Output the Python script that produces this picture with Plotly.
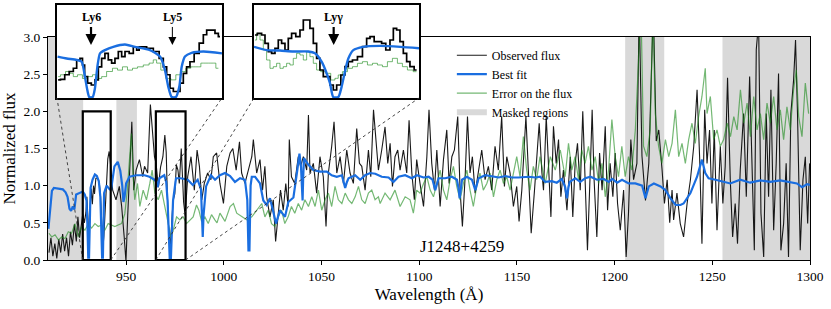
import plotly.graph_objects as go

# ---------------- data ----------------
obs_wave = [
    910.5, 911.5, 912.5, 913.5, 914.5, 915.5, 916.5, 917.5, 918.5, 919.5,
    920.5, 921.5, 922.5, 923.5, 924.5, 925.3, 926.2, 927.0, 927.8, 928.6,
    929.4, 929.9, 930.4, 931.0, 931.5, 932.1, 932.7, 933.3, 933.8, 934.5,
    935.3, 935.9, 936.4, 936.9, 937.5, 938.0, 938.6, 939.2, 939.9, 940.6,
    941.3, 941.9, 943.1, 944.8, 946.5, 947.7, 949.0, 949.9, 950.8, 951.7,
    952.9, 953.9, 955.1, 956.8, 958.5, 959.4, 961.0, 962.4, 963.6, 964.5,
    965.3, 966.5, 967.6, 968.8, 969.8, 970.5, 971.1, 971.7, 972.6, 973.4,
    974.0, 974.9, 975.7, 976.5, 977.2, 978.2, 978.8, 979.4, 980.2, 981.5,
    983.2, 984.9, 986.3, 987.5, 988.7, 990.0, 991.7, 993.4, 994.6, 996.3,
    998.0, 999.8, 1001.5, 1003.2, 1004.6, 1006.3, 1008.0, 1009.1, 1010.8, 1012.6,
    1014.3, 1015.1, 1016.8, 1018.5, 1019.8, 1021.0, 1021.9, 1023.6, 1025.3, 1026.5,
    1027.8, 1029.0, 1030.4, 1031.7, 1032.9, 1033.5, 1034.6, 1036.3, 1038.1, 1039.3,
    1040.7, 1042.4, 1043.3, 1044.1, 1045.8, 1047.5, 1049.2, 1050.9, 1052.3, 1053.5,
    1055.2, 1056.4, 1057.8, 1059.5, 1061.2, 1062.9, 1064.6, 1066.3, 1068.0, 1069.4,
    1070.6, 1072.3, 1074.0, 1075.2, 1076.6, 1078.3, 1079.1, 1080.8, 1082.5, 1083.9,
    1085.1, 1086.3, 1087.6, 1089.0, 1090.2, 1091.9, 1093.6, 1094.8, 1096.2, 1097.5,
    1098.7, 1100.4, 1102.2, 1103.9, 1105.0, 1106.4, 1107.8, 1109.0, 1110.7, 1112.4,
    1114.1, 1115.3, 1116.7, 1118.0, 1119.7, 1120.9, 1122.1, 1123.5, 1124.7, 1126.0,
    1127.2, 1128.6, 1130.3, 1132.0, 1133.7, 1135.4, 1137.1, 1138.8, 1140.5, 1142.2,
    1143.6, 1144.8, 1146.5, 1148.2, 1149.9, 1151.1, 1152.5, 1153.4, 1154.6, 1155.9,
    1157.3, 1159.0, 1160.2, 1161.4, 1162.8, 1163.6, 1165.0, 1166.2, 1167.4, 1168.7,
    1170.1, 1171.3, 1172.5, 1173.8, 1175.6, 1177.3, 1178.6, 1179.8, 1181.0, 1182.4,
    1183.7, 1184.9, 1186.1, 1187.5, 1188.5, 1189.5, 1190.9, 1192.3, 1193.6, 1195.2,
    1196.4, 1197.7, 1199.1, 1200.3, 1201.5, 1202.9, 1204.6, 1205.9, 1207.1, 1208.3,
    1209.7, 1211.4, 1212.6, 1214.0, 1215.8, 1217.5, 1219.8, 1221.3, 1222.6, 1224.3,
    1225.5, 1226.9, 1228.2, 1229.4, 1230.2, 1231.9, 1233.6, 1235.3, 1237.1, 1238.8,
    1240.5, 1242.2, 1243.5, 1244.7, 1246.1, 1247.3, 1248.6, 1249.8, 1251.0, 1252.4,
    1254.1, 1255.4, 1256.6, 1257.8, 1259.2, 1260.4, 1261.7, 1262.9, 1264.3, 1266.0,
    1267.4, 1269.1, 1270.3, 1271.5, 1272.5, 1273.7, 1274.9, 1276.3, 1277.6, 1278.8,
    1280.0, 1281.4, 1282.7, 1283.9, 1285.1, 1286.5, 1287.8, 1289.0, 1290.2, 1291.6,
    1292.6, 1293.6, 1295.0, 1296.4, 1297.6, 1298.8, 1299.8,
]
obs_flux = [
    0.10, 0.30, 0.05, 0.22, 0.02, 0.28, 0.10, 0.35, 0.12, 0.30,
    0.05, 0.38, 0.20, 0.48, 0.25, 0.58, 0.30, 0.45, 0.62, 0.50,
    0.64, 0.85, 0.46, 0.28, 0.67, 0.96, 0.75, 1.00, 0.89, 1.10,
    1.10, 1.07, 1.00, 0.85, 0.50, 0.14, 0.32, 0.67, 0.96, 1.36,
    1.46, 1.32, 0.94, 0.81, 0.99, 0.72, 0.31, -0.02, 0.60, 1.21,
    1.86, 0.94, 1.21, 1.35, 1.12, 1.26, 1.17, 2.09, 1.66, 1.39,
    1.30, 0.98, 1.25, 1.39, 1.68, 1.45, 0.85, 0.46, 0.17, 0.50,
    0.80, 0.89, 1.28, 1.21, 1.03, 1.50, 1.21, 0.78, 0.60, 1.12,
    1.39, 0.94, 1.48, 1.26, 0.81, 1.03, 1.17, 1.08, 1.39, 1.44,
    1.03, 0.76, 1.26, 1.44, 1.50, 1.21, 1.59, 1.17, 1.03, 1.23,
    1.39, 1.62, 1.17, 1.35, 0.94, 1.26, 0.85, 0.58, 0.81, 0.25,
    0.58, 0.94, 0.67, 1.03, 0.72, 1.62, 1.12, 1.03, 1.39, 1.26,
    1.39, 1.21, 1.95, 1.17, 1.30, 0.90, 1.39, 1.12, 0.45, 1.17,
    1.53, 1.86, 1.17, 1.39, 1.03, 1.48, 1.17, 1.03, 1.77, 1.30,
    1.26, 0.94, 1.48, 1.12, 2.02, 1.39, 1.21, 1.48, 1.79, 1.30,
    1.57, 0.99, 1.39, 1.48, 1.21, 1.48, 1.17, 1.88, 1.17, 0.81,
    1.35, 1.03, 0.72, 1.39, 2.02, 1.30, 0.94, 1.48, 0.72, 1.35,
    1.75, 1.03, 1.39, 1.48, 1.93, 0.94, 0.45, 1.12, 1.93, 1.17,
    1.39, 0.90, 1.17, 1.48, 1.08, 1.26, 0.94, 1.53, 1.21, 1.93,
    0.99, 1.39, 1.17, 0.72, 0.99, 0.52, 0.94, 1.39, 1.93, 1.17,
    0.36, 0.94, 1.39, 1.84, 1.17, 0.94, 1.93, 1.21, 0.58, 1.80,
    1.30, 1.62, 0.85, 1.21, 0.67, 1.39, 0.58, 1.30, 1.57, 0.94,
    2.00, 1.08, 0.13, 1.17, 2.02, 1.08, 0.31, 1.44, 0.94, 1.80,
    0.67, 1.30, 0.85, 1.44, 0.76, 0.40, 0.94, 0.04, 0.63, 1.62,
    1.08, 1.30, 3.40, 1.40, 0.80, 1.30, 3.40, 1.60, 1.75, 1.21,
    0.76, 1.08, 0.50, 0.94, 0.54, 0.90, 0.49, 0.31, 0.76, 1.08,
    1.53, 2.29, 1.39, 0.22, 2.02, 1.30, 1.75, 0.76, 1.75, 0.40,
    1.53, 0.76, 1.26, 2.45, 1.08, 0.31, 0.76, 0.22, 1.21, 1.97,
    0.85, 2.47, 1.21, 0.13, 2.83, 3.20, 0.63, 0.04, 1.97, 0.85,
    2.29, 0.40, 1.30, 2.51, 0.13, 0.49, 1.30, 0.04, 1.97, 2.42,
    2.96, 1.97, 0.13, 1.08, 1.39, 0.49, 1.30,
]

err_wave = [
    910.5, 911.9, 913.6, 915.3, 917.0, 918.7, 920.4, 922.1, 923.8, 925.5,
    927.2, 928.9, 930.6, 932.3, 934.0, 935.7, 937.4, 939.1, 940.8, 942.5,
    944.2, 945.9, 947.6, 949.3, 950.6, 951.8, 952.7, 953.5, 954.4, 955.8,
    957.0, 958.7, 960.4, 962.1, 963.3, 964.7, 966.4, 968.1, 969.8, 971.5,
    972.9, 974.1, 975.8, 977.5, 979.2, 980.9, 982.6, 984.3, 986.0, 987.2,
    988.6, 990.3, 992.0, 993.7, 995.4, 996.5, 998.0, 1000.6, 1003.2, 1004.9,
    1006.6, 1009.1, 1011.7, 1014.3, 1016.8, 1019.4, 1021.0, 1022.7, 1024.4, 1026.1,
    1027.8, 1029.5, 1031.2, 1032.9, 1034.6, 1036.3, 1038.1, 1039.8, 1041.5, 1043.3,
    1045.0, 1046.7, 1048.4, 1050.1, 1051.8, 1053.5, 1055.2, 1056.9, 1058.6, 1060.4,
    1062.1, 1063.8, 1065.5, 1067.2, 1068.9, 1070.6, 1072.3, 1074.0, 1075.7, 1077.4,
    1079.1, 1080.0, 1082.5, 1085.1, 1087.6, 1090.2, 1092.8, 1095.3, 1097.0, 1098.7,
    1100.4, 1102.2, 1103.9, 1105.6, 1107.3, 1109.0, 1110.7, 1112.4, 1114.1, 1115.8,
    1117.5, 1119.2, 1120.9, 1122.6, 1124.4, 1126.0, 1127.7, 1129.4, 1131.1, 1132.8,
    1134.6, 1136.3, 1138.0, 1139.7, 1141.4, 1143.1, 1144.8, 1146.5, 1148.2, 1149.9,
    1151.6, 1153.3, 1155.0, 1156.7, 1158.4, 1160.1, 1161.8, 1164.5, 1167.1, 1169.6,
    1172.2, 1174.7, 1176.4, 1178.1, 1179.8, 1181.5, 1183.2, 1184.9, 1186.6, 1188.4,
    1190.1, 1191.8, 1193.5, 1195.2, 1196.9, 1198.6, 1200.3, 1202.0, 1203.7, 1205.4,
    1207.1, 1208.8, 1210.6, 1212.3, 1213.5, 1214.8, 1216.5, 1218.2, 1219.6, 1220.8,
    1222.5, 1224.2, 1226.0, 1227.7, 1229.4, 1231.1, 1232.8, 1234.5, 1236.2, 1237.9,
    1239.6, 1241.3, 1243.0, 1244.7, 1246.4, 1247.3, 1249.0, 1250.7, 1252.4, 1254.1,
    1255.8, 1257.6, 1259.3, 1261.0, 1262.7, 1264.4, 1266.1, 1267.8, 1269.5, 1271.2,
    1272.9, 1274.6, 1276.3, 1278.0, 1279.7, 1281.4, 1283.1, 1284.8, 1286.5, 1288.2,
    1289.9, 1291.6, 1293.0, 1294.2, 1295.9, 1297.6, 1299.3,
]
err_flux = [
    0.36, 0.31, 0.34, 0.27, 0.31, 0.29, 0.38, 0.36, 0.49, 0.31,
    0.45, 0.40, 0.49, 0.43, 0.49, 0.45, 0.47, 0.40, 0.49, 0.47,
    0.45, 0.47, 0.49, 0.62, 0.94, 1.39, 1.70, 1.17, 0.81, 1.03,
    0.72, 0.94, 0.81, 1.03, 1.21, 0.90, 0.81, 0.94, 0.72, 0.49,
    0.31, 0.40, 0.58, 0.54, 0.58, 0.49, 0.54, 0.58, 0.74, 0.67,
    0.52, 0.58, 0.49, 0.61, 0.54, 0.50, 0.63, 0.52, 0.72, 0.76,
    0.63, 0.58, 0.54, 0.58, 0.67, 0.76, 0.58, 0.67, 0.49, 0.45,
    0.58, 0.67, 0.49, 0.58, 0.72, 0.63, 0.76, 0.67, 0.81, 0.72,
    0.85, 0.72, 0.94, 0.67, 0.81, 0.90, 0.72, 0.99, 0.81, 0.76,
    0.90, 0.81, 0.76, 0.85, 0.99, 0.81, 0.76, 0.90, 0.94, 0.81,
    0.85, 0.76, 0.90, 0.81, 0.94, 0.72, 0.85, 0.81, 0.63, 0.94,
    0.90, 1.03, 1.12, 0.94, 0.85, 1.03, 1.21, 0.94, 0.81, 1.08,
    1.26, 0.99, 0.81, 1.03, 1.21, 0.94, 0.72, 0.99, 1.17, 0.94,
    1.03, 1.17, 0.85, 1.08, 1.21, 1.03, 1.12, 0.94, 1.17, 1.39,
    1.12, 1.66, 1.21, 0.94, 1.26, 1.08, 1.39, 1.03, 1.39, 1.21,
    1.48, 1.12, 1.57, 1.21, 1.39, 1.08, 1.48, 1.30, 1.53, 1.21,
    1.39, 1.03, 1.30, 0.85, 1.21, 1.89, 1.39, 1.12, 1.53, 1.12,
    1.39, 1.21, 1.75, 2.65, 3.40, 1.53, 1.39, 1.75, 3.40, 1.97,
    1.53, 1.30, 1.62, 1.39, 1.57, 2.02, 1.39, 1.57, 1.30, 1.62,
    1.84, 1.57, 1.93, 2.20, 2.58, 1.97, 2.20, 1.62, 1.75, 1.53,
    1.62, 1.84, 1.66, 1.93, 1.75, 2.29, 1.84, 2.11, 1.66, 2.20,
    1.75, 1.97, 1.62, 2.11, 1.84, 2.20, 1.75, 2.02, 1.62, 2.06,
    1.75, 2.29, 2.56, 1.93, 1.66, 2.38, 1.97,
]

fit_wave = [
    910.2, 911.0, 912.0, 913.0, 915.0, 917.6, 919.0, 920.0, 921.0, 921.8,
    922.7, 923.5, 924.4, 926.1, 927.8, 928.8, 929.7, 930.2, 930.6, 931.0,
    931.4, 931.8, 932.8, 934.0, 935.0, 936.0, 936.8, 937.3, 937.7, 938.1,
    938.4, 938.7, 940.0, 941.6, 942.3, 943.2, 944.0, 945.7, 947.0, 948.0,
    948.6, 949.2, 950.0, 951.7, 955.1, 959.4, 961.9, 964.5, 965.5, 966.2,
    967.0, 969.5, 970.5, 971.2, 971.8, 972.3, 972.9, 973.4, 974.0, 975.5,
    978.0, 981.5, 984.1, 986.6, 988.3, 988.8, 989.2, 989.6, 990.9, 993.4,
    995.5, 998.0, 1000.6, 1003.2, 1005.7, 1008.3, 1010.8, 1012.0, 1012.6, 1013.1,
    1013.7, 1014.3, 1016.0, 1018.5, 1020.2, 1021.9, 1023.6, 1025.3, 1026.7, 1028.7,
    1031.3, 1033.0, 1035.6, 1037.6, 1038.7, 1039.5, 1039.9, 1040.3, 1040.6, 1041.0,
    1043.3, 1045.8, 1049.2, 1052.7, 1055.2, 1057.8, 1060.4, 1061.3, 1062.1, 1063.0,
    1063.8, 1067.2, 1069.8, 1072.3, 1074.9, 1077.5, 1080.8, 1084.3, 1086.8, 1089.4,
    1092.8, 1096.2, 1098.8, 1102.2, 1104.8, 1106.8, 1108.2, 1109.9, 1113.3, 1116.7,
    1119.3, 1120.2, 1120.7, 1121.3, 1121.9, 1124.4, 1127.0, 1128.7, 1130.4, 1133.8,
    1137.2, 1140.7, 1144.1, 1147.5, 1150.9, 1156.0, 1159.5, 1161.9, 1164.5, 1167.9,
    1170.4, 1173.0, 1174.7, 1175.6, 1176.4, 1177.0, 1179.9, 1182.4, 1185.0, 1187.6,
    1191.0, 1194.4, 1197.0, 1198.7, 1201.3, 1203.8, 1207.2, 1210.6, 1214.1, 1215.2,
    1215.8, 1216.5, 1217.5, 1220.1, 1223.5, 1226.0, 1228.6, 1231.2, 1233.7, 1235.3,
    1238.8, 1242.2, 1244.7, 1246.4, 1248.1, 1251.6, 1255.0, 1259.2, 1264.3, 1269.4,
    1274.6, 1279.7, 1284.8, 1289.9, 1293.3, 1295.9, 1298.5, 1300.0,
]
fit_flux = [
    0.42, 0.70, 0.93, 0.97, 0.96, 0.95, 0.91, 0.85, 0.69, 0.66,
    0.72, 0.68, 0.88, 0.90, 0.92, 0.88, 0.80, 0.45, 0.03, 0.03,
    0.45, 0.97, 1.08, 1.15, 1.13, 1.06, 0.85, 0.40, 0.03, 0.03,
    0.45, 0.90, 1.00, 0.95, 0.95, 1.10, 1.26, 1.32, 1.20, 1.00,
    0.78, 0.85, 1.03, 1.12, 1.14, 1.14, 1.12, 1.08, 1.05, 0.98,
    1.10, 1.14, 1.05, 0.80, 0.30, 0.02, 0.02, 0.30, 0.80, 1.10,
    1.10, 1.08, 1.01, 1.08, 0.95, 0.60, 0.31, 0.60, 0.99, 1.14,
    1.08, 1.14, 1.17, 1.13, 1.05, 1.10, 1.08, 0.81, 0.13, 0.13,
    1.00, 1.12, 1.12, 1.03, 0.80, 0.74, 0.83, 0.65, 0.49, 0.67,
    0.58, 0.78, 0.84, 1.21, 1.43, 1.25, 0.90, 0.80, 1.10, 1.37,
    1.28, 1.21, 1.19, 1.19, 1.14, 1.12, 1.14, 1.05, 0.97, 1.05,
    1.10, 1.14, 1.08, 1.14, 1.17, 1.16, 1.12, 1.11, 1.05, 1.12,
    1.14, 1.10, 1.14, 1.11, 1.12, 1.08, 0.94, 1.10, 1.10, 1.12,
    1.08, 0.95, 0.83, 0.95, 1.08, 1.12, 1.08, 0.94, 1.10, 1.14,
    1.13, 1.11, 1.13, 1.11, 1.11, 1.12, 1.11, 1.12, 1.05, 1.06,
    1.04, 1.09, 0.98, 0.83, 0.98, 1.05, 1.10, 1.05, 1.10, 1.12,
    1.08, 1.09, 1.05, 1.09, 1.04, 1.08, 1.03, 1.03, 1.00, 0.90,
    0.83, 0.90, 0.99, 1.03, 0.99, 0.94, 0.83, 0.74, 0.74, 0.76,
    0.90, 1.12, 1.35, 1.17, 1.10, 1.08, 1.06, 1.03, 1.08, 1.04,
    1.07, 1.05, 1.07, 1.05, 1.03, 0.98, 1.02, 1.01,
]

mask_start = [910.0, 945.0, 1205.4, 1255.2]
mask_end = [928.0, 955.5, 1225.4, 1300.0]

# zoomed windows (inset 1: Ly6 + Ly5, inset 2: Ly-gamma)
ins1_range = [927.8, 942.1]
ins2_range = [965.2, 980.4]
ins_yrange = [0.0, 2.0]

ins1_obs_wave = [927.9, 928.3, 928.64, 929.07, 929.36, 929.65, 929.94, 930.08, 930.31, 930.6,
                 930.95, 931.24, 931.53, 931.81, 932.1, 932.39, 932.68, 932.97, 933.26, 933.55,
                 933.84, 934.27, 934.56, 934.85, 934.99, 935.28, 935.86, 936.44, 936.87, 937.16,
                 937.45, 937.74, 938.03, 938.32, 938.61, 938.89, 939.18, 939.47, 939.91, 940.34,
                 940.63, 940.92, 941.35, 941.64, 941.93]
ins1_obs_flux = [0.39, 0.40, 0.50, 0.57, 0.64, 0.82, 0.85, 0.71, 0.46, 0.32,
                 0.28, 0.39, 0.67, 0.85, 0.96, 0.82, 0.75, 0.85, 1.00, 0.89,
                 1.00, 0.96, 1.10, 1.03, 1.10, 1.10, 1.07, 1.00, 0.85, 0.67,
                 0.50, 0.21, 0.14, 0.14, 0.32, 0.53, 0.67, 0.78, 0.96, 1.18,
                 1.36, 1.46, 1.46, 1.39, 1.32]
ins1_fit_wave = [927.85, 928.64, 929.5, 929.94, 930.22, 930.43, 930.6, 930.89, 931.09, 931.3,
                 931.53, 931.96, 932.68, 933.69, 934.56, 935.86, 936.73, 937.16, 937.45, 937.74,
                 938.11, 938.4, 938.61, 938.89, 939.47, 940.49, 942.1]
ins1_fit_flux = [0.89, 0.85, 0.82, 0.78, 0.46, 0.17, 0.02, 0.02, 0.21, 0.67,
                 0.96, 1.03, 1.10, 1.15, 1.10, 1.03, 0.89, 0.60, 0.24, 0.02,
                 0.02, 0.24, 0.67, 0.89, 0.97, 1.00, 0.96]
ins1_err_wave = [927.9, 928.3, 928.78, 929.07, 929.36, 929.79, 930.22, 930.66, 931.09, 931.53,
                 931.81, 932.39, 932.83, 933.26, 933.69, 934.13, 934.56, 934.99, 935.57, 936.0,
                 936.29, 936.58, 937.02, 937.45, 937.88, 938.32, 938.75, 939.18, 939.61, 940.05,
                 940.49, 940.92, 941.35, 941.79]
ins1_err_flux = [0.46, 0.50, 0.57, 0.53, 0.46, 0.50, 0.42, 0.46, 0.50, 0.42,
                 0.46, 0.57, 0.64, 0.60, 0.67, 0.60, 0.64, 0.67, 0.71, 0.75,
                 0.82, 0.75, 0.60, 0.42, 0.39, 0.50, 0.57, 0.64, 0.67, 0.67,
                 0.75, 0.75, 0.75, 0.64]

ins2_obs_wave = [965.29, 965.75, 966.06, 966.37, 966.67, 966.98, 967.29, 967.59, 967.9, 968.21,
                 968.51, 968.82, 969.28, 969.59, 969.9, 970.2, 970.51, 970.82, 971.12, 971.43,
                 971.74, 972.05, 972.35, 972.66, 972.97, 973.43, 973.73, 974.04, 974.5, 974.96,
                 975.42, 975.73, 976.04, 976.5, 976.8, 977.11, 977.57, 977.88, 978.19, 978.49,
                 978.8, 979.11, 979.41, 979.72, 980.18]
ins2_obs_flux = [1.355, 1.39, 1.355, 1.176, 0.996, 0.961, 1.068, 1.247, 1.176, 1.032,
                 1.283, 1.39, 1.32, 1.462, 1.677, 1.677, 1.498, 1.176, 0.853, 0.602,
                 0.459, 0.459, 0.28, 0.172, 0.28, 0.495, 0.674, 0.781, 0.817, 0.889,
                 1.104, 1.283, 1.32, 1.211, 1.211, 1.176, 1.032, 1.247, 1.498, 1.462,
                 1.211, 0.961, 0.781, 0.674, 0.602]
ins2_fit_wave = [965.2, 966.37, 967.59, 968.82, 970.2, 970.82, 971.43, 971.83, 972.2, 972.5,
                 972.97, 973.27, 973.58, 973.89, 974.35, 975.27, 976.8, 978.7, 980.4]
ins2_fit_flux = [1.10, 1.03, 1.02, 1.00, 1.00, 0.96, 0.78, 0.57, 0.32, 0.02,
                 0.02, 0.24, 0.57, 0.85, 1.03, 1.10, 1.12, 1.10, 1.07]
ins2_err_wave = [965.29, 965.6, 965.91, 966.21, 966.52, 966.83, 967.13, 967.44, 967.75, 968.05,
                 968.36, 968.67, 968.97, 969.28, 969.59, 969.9, 970.2, 970.51, 970.82, 971.12,
                 971.58, 972.04, 972.5, 972.81, 973.11, 973.58, 974.04, 974.5, 974.96, 975.42,
                 975.88, 976.34, 976.8, 977.26, 977.72, 978.18, 978.64, 979.1, 979.56, 980.17]
ins2_err_flux = [1.247, 1.39, 1.247, 1.032, 0.817, 0.638, 0.674, 0.746, 0.638, 0.674,
                 0.746, 0.71, 0.853, 0.961, 0.925, 0.817, 0.996, 0.889, 0.746, 0.602,
                 0.566, 0.53, 0.387, 0.423, 0.495, 0.566, 0.638, 0.674, 0.746, 0.781,
                 0.71, 0.746, 0.71, 0.674, 0.781, 0.853, 0.746, 0.674, 0.602, 0.566]

line_labels = ["Ly6", "Ly5", "Lyγ"]
line_waves = [930.75, 937.80, 972.54]
line_inset = [1, 1, 2]
line_arrow_width = [2.2, 1.0, 2.2]

x_range = [910, 1300]
y_range = [0.0, 3.0]
x_ticks = [950, 1000, 1050, 1100, 1150, 1200, 1250, 1300]
y_ticks = [0.0, 0.5, 1.0, 1.5, 2.0, 2.5, 3.0]
object_name = "J1248+4259"

# ---------------- style / layout geometry ----------------
FONT = "Liberation Serif"
BLACK = "rgba(0,0,0,0.9)"
BLUE = "#1a6ee0"
GREEN = "rgba(30,140,30,0.62)"
GRAY = "#d9d9d9"

W, H = 831, 309
M_L, M_R, M_T, M_B = 48, 21, 5, 49
main_ydom = [0.0, 0.8745]
ins_ydom = [0.6353, 1.0]
ins1_xdom = [0.0118, 0.2283]
ins2_xdom = [0.2703, 0.4869]

fig = go.Figure()

# masked regions (one filled trace)
mx, my = [], []
for a, b in zip(mask_start, mask_end):
    mx += [a, b, b, a, a, None]
    my += [y_range[0], y_range[0], y_range[1], y_range[1], y_range[0], None]
fig.add_trace(go.Scatter(x=mx, y=my, mode="none", fill="toself", fillcolor=GRAY,
                         name="Masked regions", legendrank=4, hoverinfo="skip"))

fig.add_trace(go.Scatter(x=obs_wave, y=obs_flux, mode="lines", name="Observed flux",
                         line=dict(color=BLACK, width=1.1), legendrank=1))
fig.add_trace(go.Scatter(x=err_wave, y=err_flux, mode="lines", name="Error on the flux",
                         line=dict(color=GREEN, width=1.2), legendrank=3))
fig.add_trace(go.Scatter(x=fit_wave, y=fit_flux, mode="lines", name="Best fit",
                         line=dict(color=BLUE, width=2.2), legendrank=2))

# insets
for xa, ya, ow, of, ew, ef, fw, ff in [
    ("x2", "y2", ins1_obs_wave, ins1_obs_flux, ins1_err_wave, ins1_err_flux, ins1_fit_wave, ins1_fit_flux),
    ("x3", "y3", ins2_obs_wave, ins2_obs_flux, ins2_err_wave, ins2_err_flux, ins2_fit_wave, ins2_fit_flux),
]:
    fig.add_trace(go.Scatter(x=ew, y=ef, mode="lines", line=dict(color=GREEN, width=1, shape="hvh"),
                             xaxis=xa, yaxis=ya, showlegend=False))
    fig.add_trace(go.Scatter(x=ow, y=of, mode="lines", line=dict(color="black", width=1.7, shape="hvh"),
                             xaxis=xa, yaxis=ya, showlegend=False))
    fig.add_trace(go.Scatter(x=fw, y=ff, mode="lines", line=dict(color=BLUE, width=2.4, shape="spline", smoothing=0.6),
                             xaxis=xa, yaxis=ya, showlegend=False))

# zoom boxes and connector lines
shapes = []
conn_y = ins_ydom[0] / main_ydom[1] * (y_range[1] - y_range[0])
for rng, dom in [(ins1_range, ins1_xdom), (ins2_range, ins2_xdom)]:
    shapes.append(dict(type="rect", xref="x", yref="y", x0=rng[0], x1=rng[1],
                       y0=ins_yrange[0], y1=ins_yrange[1], line=dict(color="black", width=2.2),
                       layer="above"))
    for k in (0, 1):
        cx = x_range[0] + dom[k] * (x_range[1] - x_range[0])
        shapes.append(dict(type="line", xref="x", yref="y", x0=rng[k], y0=ins_yrange[0],
                           x1=cx, y1=conn_y, line=dict(color="#333", width=0.9, dash="dot"),
                           layer="above"))

annotations = []
for lab, w, ins, aw in zip(line_labels, line_waves, line_inset, line_arrow_width):
    xr = "x2" if ins == 1 else "x3"
    yr = "y2" if ins == 1 else "y3"
    annotations.append(dict(x=w, y=1.74, xref=xr, yref=yr, text="<b>%s</b>" % lab, showarrow=False,
                            font=dict(family=FONT, size=12, color="black")))
    annotations.append(dict(x=w, y=1.14, xref=xr, yref=yr, ax=w, ay=1.56, axref=xr, ayref=yr,
                            text="", showarrow=True, arrowhead=2, arrowsize=1.0 if aw > 1.5 else 1.6,
                            arrowwidth=aw, arrowcolor="black"))
annotations.append(dict(x=1122, y=0.18, xref="x", yref="y", text=object_name, showarrow=False,
                        font=dict(family=FONT, size=17, color="black")))

axis_common = dict(showgrid=False, zeroline=False, showline=True, mirror=True, automargin=False,
                   linecolor="black", linewidth=1, ticks="outside", ticklen=4, tickwidth=1,
                   tickcolor="black", tickfont=dict(family=FONT, size=13.5, color="black"))
inset_axis = dict(showgrid=False, zeroline=False, showline=True, mirror=True, automargin=False,
                  linecolor="black", linewidth=2, ticks="", showticklabels=False)

fig.update_layout(
    width=W, height=H,
    margin=dict(l=M_L, r=M_R, t=M_T, b=M_B, autoexpand=False),
    paper_bgcolor="white", plot_bgcolor="white",
    font=dict(family=FONT, color="black"),
    xaxis=dict(range=x_range, domain=[0, 1], tickvals=x_ticks, anchor="y",
               title=dict(text="Wavelength (Å)", font=dict(family=FONT, size=17), standoff=4),
               **axis_common),
    yaxis=dict(range=y_range, domain=main_ydom, tickvals=y_ticks, tickformat=".1f", anchor="x",
               title=dict(text="Normalized flux", font=dict(family=FONT, size=17), standoff=4),
               **axis_common),
    xaxis2=dict(range=ins1_range, domain=ins1_xdom, anchor="y2", **inset_axis),
    yaxis2=dict(range=ins_yrange, domain=ins_ydom, anchor="x2", **inset_axis),
    xaxis3=dict(range=ins2_range, domain=ins2_xdom, anchor="y3", **inset_axis),
    yaxis3=dict(range=ins_yrange, domain=ins_ydom, anchor="x3", **inset_axis),
    shapes=shapes,
    annotations=annotations,
    legend=dict(x=0.530, y=0.86, xanchor="left", yanchor="top", bgcolor="rgba(0,0,0,0)",
                font=dict(family=FONT, size=12, color="black"), tracegroupgap=0),
    showlegend=True,
)

fig.write_html("out.html", config={"displayModeBar": False},
               post_script="document.body.style.margin='0px';")
